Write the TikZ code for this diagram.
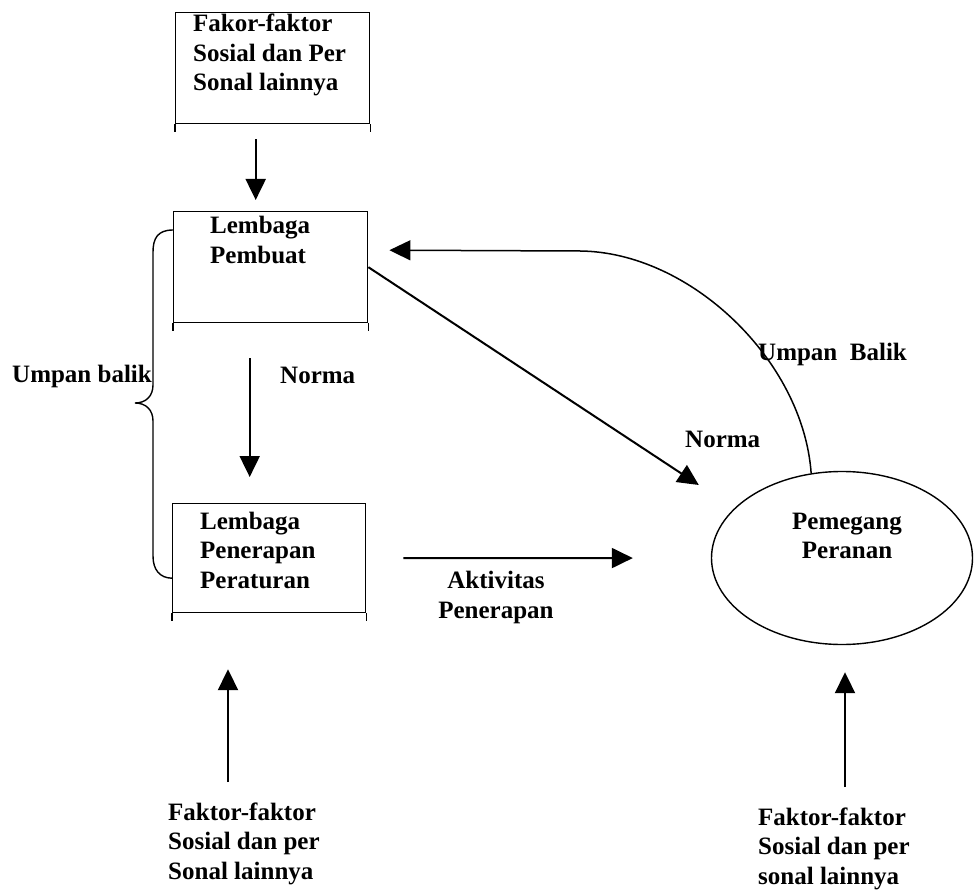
\documentclass[tikz,border=0pt]{standalone}
\usepackage{fontspec}
\setmainfont{Liberation Serif}
\usetikzlibrary{arrows.meta,shapes.geometric}

\tikzset{
    kotak/.style={draw, line width=1.4pt, minimum width=194pt, minimum height=111pt, anchor=north west, inner sep=0pt},
    teks/.style={font=\fontsize{25}{29.5}\selectfont\bfseries, inner sep=0pt},
    panah/.style={line width=2pt, -{Triangle[length=21pt,width=20pt]}},
}

\begin{document}
\begin{tikzpicture}[x=1pt, y=-1pt]
    % ukuran gambar sama dengan referensi
    \useasboundingbox (0,0) rectangle (974,893);

    % kotak-kotak lembaga
    \node[kotak] (faktorAtas) at (175,12) {};
    \node[kotak] (pembuat) at (173,211) {};
    \node[kotak, minimum width=193pt, minimum height=109pt] (penerapan) at (172,503) {};
    % kaki kotak (sisi lebih panjang dari garis bawah)
    \foreach \k in {faktorAtas, pembuat, penerapan}
        \draw[line width=1.4pt] (\k.south west) -- ++(0,8) (\k.south east) -- ++(0,8);

    % isi kotak (base = baris terakhir)
    \node[teks, align=left, anchor=base west] (teksAtas) at (193,91) {Fakor-faktor\\Sosial dan Per\\Sonal lainnya};
    \node[teks, align=left, anchor=base west] (teksPembuat) at (210,263.5) {Lembaga\\Pembuat};
    \node[teks, align=left, anchor=base west] (teksPenerapan) at (200,588) {Lembaga\\Penerapan\\Peraturan};

    % pemegang peranan
    \node[draw, ellipse, line width=1.4pt, minimum width=261pt, minimum height=173pt, inner sep=0pt] (pemegang) at (842,558) {};
    \node[teks, align=center, anchor=base] (teksPemegang) at (847,558.5) {Pemegang\\Peranan};

    % label
    \node[teks, anchor=base west] (umpanKiri) at (12,382) {Umpan balik};
    \node[teks, anchor=base west] (normaTengah) at (280,383) {Norma};
    \node[teks, anchor=base west] (normaKanan) at (685,447) {Norma};
    \node[teks, anchor=base west] (umpanKanan) at (758,360) {Umpan~ Balik};
    \node[teks, align=center, anchor=base] (aktivitas) at (496,618) {Aktivitas\\Penerapan};
    \node[teks, align=left, anchor=base west] (faktorKiri) at (168,879) {Faktor-faktor\\Sosial dan per\\Sonal lainnya};
    \node[teks, align=left, anchor=base west] (faktorKanan) at (758,884) {Faktor-faktor\\Sosial dan per\\sonal lainnya};

    % panah
    \draw[panah] ([shift={(-17,15)}]faktorAtas.south) -- ([shift={(-15,-11)}]pembuat.north);
    \draw[panah] ([shift={(-21,35)}]pembuat.south) -- ([shift={(-19.5,-26)}]penerapan.north);
    \draw[panah] (pembuat.east) -- ([shift={(-12,-73)}]pemegang.west);
    \draw[panah, shorten <=37pt, shorten >=78pt] (penerapan.east) -- (pemegang.west);
    \draw[panah, line width=1.5pt] (pemegang.110) .. controls (803,360) and (690,252) .. (580,251)
        -- ([shift={(21,-17)}]pembuat.east);
    \draw[panah] ([shift={(60,-20)}]faktorKiri.north west) -- ++(0,-113);
    \draw[panah] ([shift={(87,-20)}]faktorKanan.north west) -- ++(0,-115);

    % kurung umpan balik
    \draw[line width=1.4pt] ([shift={(0,19)}]pembuat.north west)
        .. controls (158,230) and (153,238) .. (153,252) -- (153,385)
        .. controls (153,396) and (146,403) .. (135,403)
        .. controls (146,403) and (153,410) .. (153,421) -- (153,556)
        .. controls (153,570) and (160,578) .. ([shift={(0,20)}]penerapan.west);
\end{tikzpicture}
\end{document}
